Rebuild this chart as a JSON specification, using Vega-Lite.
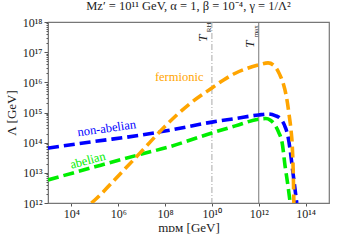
{
  "$schema": "https://vega.github.io/schema/vega-lite/v6.json",
  "width": 281,
  "height": 181,
  "autosize": {"type": "none"},
  "padding": {"left": 48, "top": 22, "right": 9, "bottom": 41},
  "title": {"text": "Mᴢ′ = 10¹¹ GeV, α = 1, β = 10⁻⁴, γ = 1/Λ²", "font": "Liberation Serif", "fontSize": 12.5, "fontWeight": "normal", "color": "#222", "offset": 4},
  "config": {
    "view": {"stroke": "#777", "strokeWidth": 1.2},
    "font": "Liberation Serif"
  },
  "datasets": {
    "fermionic": [
      {"m": 7.1e4, "L": 1e12}, {"m": 1e5, "L": 1.26e12}, {"m": 1e6, "L": 7.9e12}, {"m": 1e7, "L": 5.2e13},
      {"m": 1e8, "L": 3.5e14}, {"m": 1e9, "L": 1.8e15}, {"m": 1e10, "L": 6.5e15}, {"m": 3.16e10, "L": 1.2e16},
      {"m": 1e11, "L": 2.0e16}, {"m": 3.16e11, "L": 2.9e16}, {"m": 1e12, "L": 3.8e16}, {"m": 2.5e12, "L": 4.4e16},
      {"m": 5e12, "L": 3.3e16}, {"m": 7.9e12, "L": 1.8e16}, {"m": 1.12e13, "L": 8.9e15}, {"m": 1.58e13, "L": 2.8e15},
      {"m": 2e13, "L": 7.9e14}, {"m": 2.4e13, "L": 2.5e14}, {"m": 2.7e13, "L": 7.9e13}, {"m": 2.95e13, "L": 1.26e13},
      {"m": 3.16e13, "L": 1e12}
    ],
    "nonabelian": [
      {"m": 1e3, "L": 6.6e13}, {"m": 1e5, "L": 1.1e14}, {"m": 1e7, "L": 1.8e14}, {"m": 1.58e8, "L": 2.6e14},
      {"m": 1e10, "L": 4.8e14}, {"m": 1e11, "L": 6.3e14}, {"m": 1e12, "L": 8.3e14}, {"m": 2.5e12, "L": 8.9e14},
      {"m": 5e12, "L": 7.9e14}, {"m": 8.9e12, "L": 6.0e14}, {"m": 1.35e13, "L": 3.3e14}, {"m": 1.78e13, "L": 1.58e14},
      {"m": 2.2e13, "L": 5.6e13}, {"m": 2.7e13, "L": 1.55e13}, {"m": 3.16e13, "L": 5.8e12}, {"m": 4.2e13, "L": 1e12}
    ],
    "abelian": [
      {"m": 1e3, "L": 5.8e12}, {"m": 1e5, "L": 1.58e13}, {"m": 1e7, "L": 4.2e13}, {"m": 1.35e8, "L": 7.1e13},
      {"m": 1e10, "L": 2.1e14}, {"m": 1e11, "L": 3.6e14}, {"m": 1e12, "L": 6.0e14}, {"m": 2e12, "L": 6.3e14},
      {"m": 3.16e12, "L": 5.5e14}, {"m": 5e12, "L": 3.8e14}, {"m": 7.1e12, "L": 2.2e14}, {"m": 1e13, "L": 9.8e13},
      {"m": 1.35e13, "L": 1.55e13}, {"m": 1.8e13, "L": 3.4e12}, {"m": 2.2e13, "L": 1e12}
    ]
  },
  "layer": [
    {
      "data": {"values": [{"m": 1e10}]},
      "mark": {"type": "rule", "color": "#aaa", "strokeWidth": 1, "strokeDash": [6, 2, 1, 2]},
      "encoding": {"x": {"field": "m", "type": "quantitative"}}
    },
    {
      "data": {"values": [{"m": 1e12}]},
      "mark": {"type": "rule", "color": "#777", "strokeWidth": 1},
      "encoding": {"x": {"field": "m", "type": "quantitative"}}
    },
    {
      "data": {"name": "abelian"},
      "mark": {"type": "line", "color": "#00ee00", "strokeWidth": 3.6, "strokeDash": [11, 5], "clip": true, "interpolate": "monotone"},
      "encoding": {
        "x": {"field": "m", "type": "quantitative",
          "scale": {"type": "log", "domain": [1e3, 1e15], "nice": false},
          "axis": {"values": [1e4, 1e6, 1e8, 1e10, 1e12, 1e14], "title": "mᴅᴍ [GeV]", "titleFont": "Liberation Serif", "titleFontSize": 13, "titleFontWeight": "normal", "titleColor": "#222", "titlePadding": 2,
            "labelExpr": "'10' + ['⁰','¹','²','³','⁴','⁵','⁶','⁷','⁸','⁹','¹⁰','¹¹','¹²','¹³','¹⁴','¹⁵','¹⁶','¹⁷','¹⁸'][round(log(datum.value)/LN10)]",
            "labelFont": "Liberation Serif", "labelFontSize": 12, "labelColor": "#222", "labelPadding": 2,
            "grid": false, "domainColor": "#777", "tickColor": "#555", "tickSize": 3, "labelFlush": false}},
        "y": {"field": "L", "type": "quantitative",
          "scale": {"type": "log", "domain": [1e12, 1e18], "nice": false},
          "axis": {"values": [1e12, 2e12, 3e12, 4e12, 5e12, 6e12, 7e12, 8e12, 9e12, 1e13, 2e13, 3e13, 4e13, 5e13, 6e13, 7e13, 8e13, 9e13, 1e14, 2e14, 3e14, 4e14, 5e14, 6e14, 7e14, 8e14, 9e14, 1e15, 2e15, 3e15, 4e15, 5e15, 6e15, 7e15, 8e15, 9e15, 1e16, 2e16, 3e16, 4e16, 5e16, 6e16, 7e16, 8e16, 9e16, 1e17, 2e17, 3e17, 4e17, 5e17, 6e17, 7e17, 8e17, 9e17, 1e18],
            "title": "Λ [GeV]", "titleFont": "Liberation Serif", "titleFontSize": 13, "titleFontWeight": "normal", "titleColor": "#222", "titlePadding": 4,
            "labelExpr": "abs(log(datum.value)/LN10 - round(log(datum.value)/LN10)) < 0.001 ? '10' + ['⁰','¹','²','³','⁴','⁵','⁶','⁷','⁸','⁹','¹⁰','¹¹','¹²','¹³','¹⁴','¹⁵','¹⁶','¹⁷','¹⁸'][round(log(datum.value)/LN10)] : ''",
            "labelFont": "Liberation Serif", "labelFontSize": 12, "labelColor": "#222", "labelPadding": 2,
            "grid": false, "domainColor": "#777", "tickColor": "#555",
            "tickSize": {"condition": {"test": "abs(log(datum.value)/LN10 - round(log(datum.value)/LN10)) < 0.001", "value": 4}, "value": 2}}}
      }
    },
    {
      "data": {"name": "nonabelian"},
      "mark": {"type": "line", "color": "#0000ff", "strokeWidth": 3.6, "strokeDash": [11, 5], "clip": true, "interpolate": "monotone"},
      "encoding": {"x": {"field": "m", "type": "quantitative"}, "y": {"field": "L", "type": "quantitative"}}
    },
    {
      "data": {"name": "fermionic"},
      "mark": {"type": "line", "color": "#ffa500", "strokeWidth": 3.6, "strokeDash": [11, 5], "clip": true, "interpolate": "monotone"},
      "encoding": {"x": {"field": "m", "type": "quantitative"}, "y": {"field": "L", "type": "quantitative"}}
    },
    {
      "data": {"values": [{"m": 4e8, "L": 1.5e16, "label": "fermionic"}]},
      "mark": {"type": "text", "color": "#ffa500", "fontSize": 12.5, "font": "Liberation Serif", "align": "center", "baseline": "middle"},
      "encoding": {"x": {"field": "m", "type": "quantitative"}, "y": {"field": "L", "type": "quantitative"}, "text": {"field": "label"}}
    },
    {
      "data": {"values": [{"m": 3.2e5, "L": 3.0e14, "label": "non-abelian"}]},
      "mark": {"type": "text", "color": "#0000ff", "fontSize": 12.5, "font": "Liberation Serif", "align": "center", "baseline": "middle", "angle": 352},
      "encoding": {"x": {"field": "m", "type": "quantitative"}, "y": {"field": "L", "type": "quantitative"}, "text": {"field": "label"}}
    },
    {
      "data": {"values": [{"m": 5e4, "L": 2.6e13, "label": "abelian"}]},
      "mark": {"type": "text", "color": "#00ee00", "fontSize": 12.5, "font": "Liberation Serif", "align": "center", "baseline": "middle", "angle": 345},
      "encoding": {"x": {"field": "m", "type": "quantitative"}, "y": {"field": "L", "type": "quantitative"}, "text": {"field": "label"}}
    },
    {
      "data": {"values": [{"m": 1e10, "L": 2.2e17, "label": "T"}, {"m": 1e12, "L": 1.4e17, "label": "T"}]},
      "mark": {"type": "text", "color": "#222", "fontSize": 13, "font": "Liberation Serif", "fontStyle": "italic", "align": "left", "baseline": "bottom", "angle": 270, "dy": -2},
      "encoding": {"x": {"field": "m", "type": "quantitative"}, "y": {"field": "L", "type": "quantitative"}, "text": {"field": "label"}}
    },
    {
      "data": {"values": [{"m": 1e10, "L": 4.6e17, "label": "RH"}, {"m": 1e12, "L": 3.1e17, "label": "max"}]},
      "mark": {"type": "text", "color": "#222", "fontSize": 7, "font": "Liberation Serif", "align": "left", "baseline": "bottom", "angle": 270, "dy": 0},
      "encoding": {"x": {"field": "m", "type": "quantitative"}, "y": {"field": "L", "type": "quantitative"}, "text": {"field": "label"}}
    }
  ]
}
